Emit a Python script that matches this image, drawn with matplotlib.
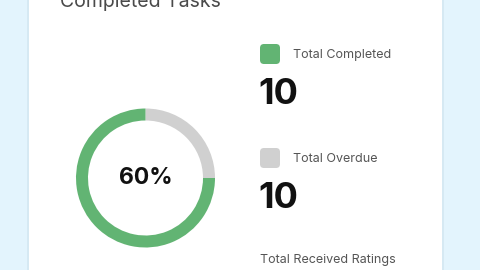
import matplotlib
matplotlib.use("Agg")
import matplotlib.pyplot as plt
from matplotlib.patches import FancyBboxPatch, Rectangle

plt.rcParams["font.family"] = ["Inter", "DejaVu Sans"]

# data
slice_labels = ["Total Overdue", "Total Completed"]
slice_values = [25, 75]
slice_colors = ["#d0d0d0", "#62b473"]
center_label = "60%"
legend_labels = ["Total Completed", "Total Overdue"]
legend_counts = ["10", "10"]
legend_colors = ["#62b473", "#d0d0d0"]
title = "Completed Tasks"
footer = "Total Received Ratings"

W, H = 480, 270
fig = plt.figure(figsize=(W / 100, H / 100), dpi=100)
fig.patch.set_facecolor("#e3f4fd")

# background / card layer in pixel coordinates
bg = fig.add_axes([0, 0, 1, 1])
bg.set_xlim(0, W)
bg.set_ylim(H, 0)
bg.axis("off")
bg.add_patch(Rectangle((27, -5), 417, H + 10, facecolor="#d6e9f3", edgecolor="none"))
bg.add_patch(Rectangle((29, -5), 413, H + 10, facecolor="white", edgecolor="none"))

# title is cut at the top edge, as in the reference
bg.text(60, 7, title, fontsize=14, color="#4a4a4a", ha="left", va="baseline")

rows_y = [54, 158]
for label, count, color, y in zip(legend_labels, legend_counts, legend_colors, rows_y):
    bg.add_patch(FancyBboxPatch((260, y - 10), 20, 20,
                                boxstyle="round,pad=0,rounding_size=4",
                                facecolor=color, edgecolor="none"))
    bg.text(293, y + 1, label, fontsize=9, color="#555555", ha="left", va="center")
    bg.text(258, y + 41, count, fontsize=26, fontweight="bold", color="#111111",
            ha="left", va="center")

bg.text(260, 260, footer, fontsize=9, color="#555555", ha="left", va="center")

# donut
cx, cy, r = 145.5, 178, 69.5
ax = fig.add_axes([(cx - r) / W, (H - cy - r) / H, 2 * r / W, 2 * r / H])
ax.pie(slice_values, colors=slice_colors, startangle=90, counterclock=False,
       radius=1, wedgeprops={"width": 12 / r, "edgecolor": "none"})
ax.set_xlim(-1, 1)
ax.set_ylim(-1, 1)
ax.set_aspect("equal")
ax.axis("off")
ax.text(0, 0, center_label, fontsize=16.5, fontweight="bold", color="#111111",
        ha="center", va="center")

fig.savefig("out.png", dpi=100, facecolor=fig.get_facecolor())
